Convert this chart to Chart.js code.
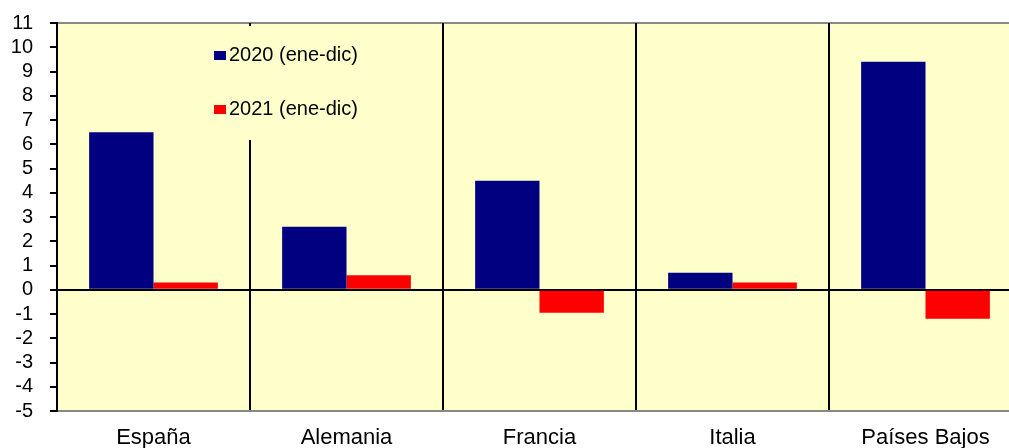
<!DOCTYPE html>
<html>
<head>
<meta charset="utf-8">
<script src="https://cdn.jsdelivr.net/npm/chart.js@4/dist/chart.umd.min.js"></script>
<style>
  body { margin: 0; background: #fff; overflow: hidden; }
  #wrap { width: 1022px; height: 448px; }
</style>
</head>
<body>
<div id="wrap"><canvas id="canvas"></canvas></div>
<script>
var paises = ["España", "Alemania", "Francia", "Italia", "Países Bajos"];
var serie2020 = [6.5, 2.6, 4.5, 0.7, 9.4];
var serie2021 = [0.3, 0.6, -0.95, 0.3, -1.2];
var nombres = ["2020 (ene-dic)", "2021 (ene-dic)"];
var colores = ["#000080", "#ff0000"];
var fuente = "'Liberation Sans', Arial, sans-serif";

// fondo amarillo del area y linea gris arriba
var fondo = {
  id: "fondo",
  beforeDraw: function(chart) {
    var a = chart.chartArea, c = chart.ctx;
    c.save();
    c.fillStyle = "#ffffcc";
    c.fillRect(a.left, a.top, a.right - a.left, a.bottom - a.top);
    c.strokeStyle = "#888888";
    c.lineWidth = 2;
    c.beginPath();
    c.moveTo(a.left, a.top);
    c.lineTo(a.right, a.top);
    c.stroke();
    c.restore();
  }
};

// leyenda dentro del area, tapa la linea de division
var leyenda = {
  id: "leyenda",
  afterDatasetsDraw: function(chart) {
    var c = chart.ctx, a = chart.chartArea;
    c.save();
    c.fillStyle = "#ffffcc";
    c.fillRect(200, a.top + 3, 220, 114);
    c.font = "20px " + fuente;
    c.textBaseline = "middle";
    chart.data.datasets.forEach(function(ds, i) {
      var y = 55 + i * 54;
      c.fillStyle = ds.backgroundColor;
      c.fillRect(214, y - 4, 12, 9);
      c.fillStyle = "#000";
      c.fillText(ds.label, 229, y);
    });
    c.restore();
  }
};

var config = {
  type: "bar",
  data: {
    labels: paises,
    datasets: [
      { label: nombres[0], data: serie2020, backgroundColor: colores[0] },
      { label: nombres[1], data: serie2021, backgroundColor: colores[1] }
    ]
  },
  options: {
    responsive: true,
    maintainAspectRatio: false,
    animation: false,
    layout: { padding: { left: 10, top: 23, right: 0, bottom: 0 } },
    datasets: {
      bar: { barPercentage: 1, categoryPercentage: 0.667 }
    },
    plugins: {
      legend: { display: false },
      tooltip: { enabled: false }
    },
    scales: {
      x: {
        offset: true,
        afterFit: function(s) {
          s.height = 37;
          s.paddingLeft = 0;
          s.paddingRight = 0;
        },
        grid: {
          offset: true,
          color: "#000",
          lineWidth: 2,
          drawTicks: false
        },
        border: { color: "#888888", width: 2 },
        ticks: {
          color: "#000",
          padding: 14,
          maxRotation: 0,
          font: { family: fuente, size: 22 }
        }
      },
      y: {
        min: -5,
        max: 11,
        afterFit: function(s) {
          s.width = 47;
          s.paddingTop = 0;
          s.paddingBottom = 0;
        },
        ticks: {
          stepSize: 1,
          autoSkip: false,
          color: "#000",
          padding: 17,
          font: { family: fuente, size: 20 }
        },
        grid: {
          tickLength: 7,
          tickColor: "#000",
          tickWidth: 2,
          lineWidth: 2,
          color: function(ctx) {
            return ctx.tick && ctx.tick.value === 0 ? "#000" : "rgba(0,0,0,0)";
          }
        },
        border: { color: "#000", width: 2 }
      }
    }
  },
  plugins: [fondo, leyenda]
};

window.onload = function() {
  var ctx = document.getElementById("canvas").getContext("2d");
  window.myBar = new Chart(ctx, config);
};
</script>
</body>
</html>
